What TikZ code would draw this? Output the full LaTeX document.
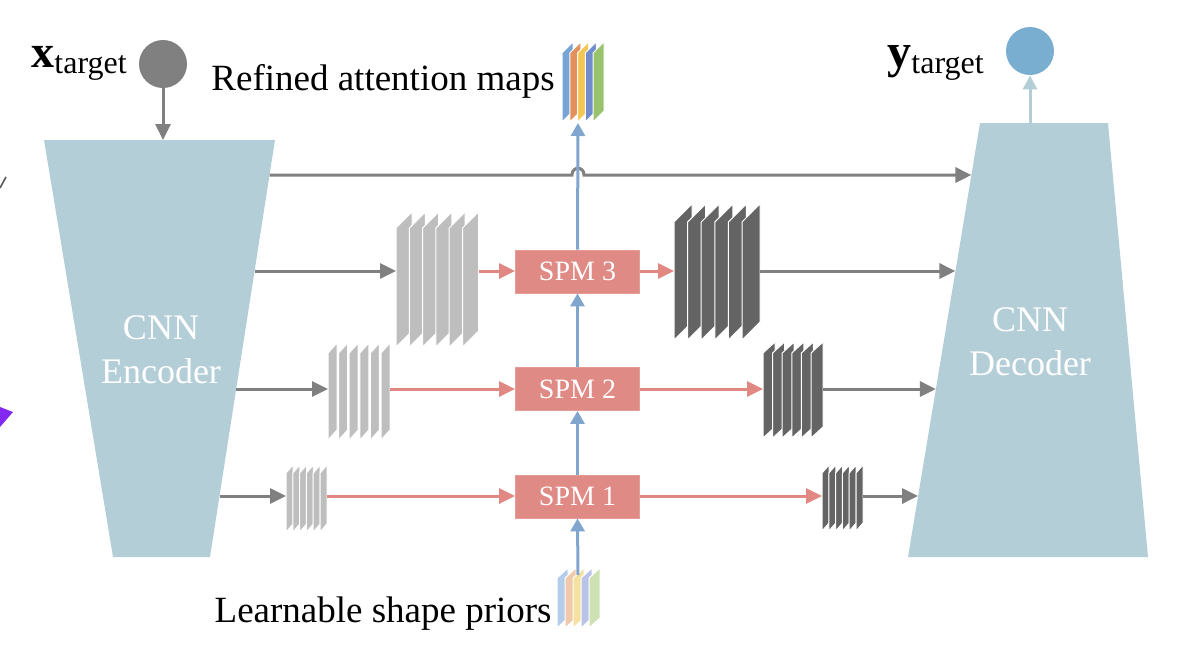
\documentclass[tikz,border=0pt]{standalone}
\usepackage{fontspec}
\setmainfont{Liberation Serif}
\usetikzlibrary{arrows.meta}
\definecolor{cnn}{RGB}{180,206,215}
\definecolor{gline}{RGB}{128,128,128}
\definecolor{rline}{RGB}{226,136,130}
\definecolor{bline}{RGB}{128,166,206}
\definecolor{spm}{RGB}{224,138,133}
\definecolor{lplate}{RGB}{190,190,190}
\definecolor{dplate}{RGB}{100,100,100}
\definecolor{xcirc}{RGB}{128,128,128}
\definecolor{ycirc}{RGB}{122,174,208}
\definecolor{ra}{RGB}{118,164,214}
\definecolor{rb}{RGB}{228,144,94}
\definecolor{rc}{RGB}{244,198,84}
\definecolor{rd}{RGB}{112,140,204}
\definecolor{re}{RGB}{152,194,108}
\definecolor{pa}{RGB}{180,205,235}
\definecolor{pb}{RGB}{240,200,170}
\definecolor{pc}{RGB}{245,225,160}
\definecolor{pd}{RGB}{185,195,232}
\definecolor{pe}{RGB}{205,225,180}
\definecolor{purp}{RGB}{130,40,240}
\newcommand\myplate[6]{%
  \filldraw[fill=#6, draw=white, line width=0.5pt] (#1,#2) -- ++(#3,-#4) -- ++(0,#5) -- ++(-#3,#4) -- cycle;}
\tikzset{
  tip/.style={-{Triangle[length=8pt,width=7.5pt]}},
  garrow/.style={draw=gline, line width=1.5pt, tip},
  gline/.style={draw=gline, line width=1.5pt},
  rarrow/.style={draw=rline, line width=1.5pt, tip},
  rlineonly/.style={draw=rline, line width=1.5pt},
  barrow/.style={draw=bline, line width=1.5pt, -{Triangle[length=6.5pt,width=7pt]}},
  spmbox/.style={fill=spm, draw=spm!85!white, minimum width=62pt, minimum height=21.5pt,
    text=white, font=\fontsize{14}{14}\selectfont, inner sep=0pt},
  lbl/.style={inner sep=0pt, font=\fontsize{18.5}{22}\selectfont},
  cnntext/.style={inner sep=0pt, text=white, align=center, font=\fontsize{18}{22}\selectfont}
}
\begin{document}
\begin{tikzpicture}[x=0.5pt,y=-0.5pt]
\useasboundingbox (0,0) rectangle (1200,660);
% edge artefacts
\fill[purp] (0,407) -- (13,412) -- (0,427) -- cycle;
\draw[gray!70!black, line width=0.8pt] (0,188) -- (6,177);
% encoder / decoder bodies
\fill[cnn] (44,140) -- (275,140) -- (210,557) -- (113,557) -- cycle;
\fill[cnn] (980,123) -- (1108,123) -- (1148,557) -- (908,557) -- cycle;
\node[cnntext] (enc) at (161,350) {CNN\\Encoder};
\node[cnntext] (dec) at (1030,342) {CNN\\Decoder};
% coordinates on edges
\coordinate (enctop) at (163,140);
\coordinate (dectop) at (1030,123);
\coordinate (e0) at (269.5,175);
\coordinate (e3) at (254.6,271);
\coordinate (e2) at (236.2,389);
\coordinate (e1) at (219.5,496);
\coordinate (d0) at (971.4,175);
\coordinate (d3) at (955.4,271);
\coordinate (d2) at (935.9,389);
\coordinate (d1) at (918.1,496);
% input / output circles
\node[circle, fill=xcirc, minimum size=24pt, inner sep=0pt] (xc) at (163,64) {};
\node[circle, fill=ycirc, minimum size=24pt, inner sep=0pt] (yc) at (1030,51) {};
\node[anchor=base west, inner sep=0pt] (xl) at (31,67)
  {\fontsize{23}{23}\selectfont\bfseries x\raisebox{-3pt}{\fontsize{16}{16}\selectfont\mdseries target}};
\node[anchor=base west, inner sep=0pt] (yl) at (887,67)
  {\fontsize{24}{24}\selectfont\bfseries y\raisebox{-3pt}{\fontsize{16}{16}\selectfont\mdseries target}};
\draw[garrow] (xc.south) -- (enctop);
\draw[draw=cnn, line width=1.5pt, -{Triangle[length=7pt,width=7pt]}] (dectop) -- (yc.south);
% feature stacks
\foreach \i in {0,...,5} {\myplate{396+13.3*\i}{228}{16}{16}{119}{lplate}}
\foreach \i in {0,...,5} {\myplate{674+13.6*\i}{222}{18}{18}{118}{dplate}}
\foreach \i in {0,...,5} {\myplate{328+10.6*\i}{353}{9}{10}{87}{lplate}}
\foreach \i in {0,...,5} {\myplate{763+9.6*\i}{353}{12}{11}{85}{dplate}}
\foreach \i in {0,...,5} {\myplate{286+6.8*\i}{473}{7}{8}{59}{lplate}}
\foreach \i in {0,...,5} {\myplate{822+6.8*\i}{473}{7}{8}{58}{dplate}}
\coordinate (L3l) at (396,271); \coordinate (L3r) at (479,271);
\coordinate (D3l) at (674,271); \coordinate (D3r) at (760,271);
\coordinate (L2l) at (328,389); \coordinate (L2r) at (390,389);
\coordinate (D2l) at (763,389); \coordinate (D2r) at (823,389);
\coordinate (L1l) at (286,496); \coordinate (L1r) at (327,496);
\coordinate (D1l) at (822,496); \coordinate (D1r) at (863,496);
% refined attention maps and shape priors
\foreach \i/\c in {0/ra,1/rb,2/rc,3/rd,4/re} {\myplate{562+7.75*\i}{53}{11}{11}{69}{\c}}
\foreach \i/\c in {0/pa,1/pb,2/pc,3/pd,4/pe} {\myplate{557+8*\i}{578}{11}{10}{50}{\c}}
\coordinate (Rb) at (578,123);
\coordinate (Pt) at (578,575);
\node[lbl, anchor=base east] (rlab) at (555,90) {Refined attention maps};
\node[lbl, anchor=base east] (plab) at (552,622) {Learnable shape priors};
% SPM boxes
\node[spmbox] (s3) at (577.5,271.5) {SPM 3};
\node[spmbox] (s2) at (577.5,389) {SPM 2};
\node[spmbox] (s1) at (577.5,496.5) {SPM 1};
% top skip with hop
\draw[garrow] (e0) -- (572,175) .. controls (572,166) and (584,166) .. (584,175) -- (d0);
% row 3
\draw[garrow] (e3) -- (L3l);
\draw[rarrow] (L3r) -- (L3r -| s3.west);
\draw[rarrow] (s3.east |- D3l) -- (D3l);
\draw[garrow] (D3r) -- (d3);
% row 2
\draw[garrow] (e2) -- (L2l);
\draw[rarrow] (L2r) -- (L2r -| s2.west);
\draw[rarrow] (s2.east |- D2l) -- (D2l);
\draw[garrow] (D2r) -- (d2);
% row 1
\draw[garrow] (e1) -- (L1l);
\draw[rarrow] (L1r) -- (L1r -| s1.west);
\draw[rarrow] (s1.east |- D1l) -- (D1l);
\draw[garrow] (D1r) -- (d1);
% vertical path
\draw[barrow] (Pt) -- (s1.south);
\draw[barrow] (s1.north) -- (s2.south);
\draw[barrow] (s2.north) -- (s3.south);
\draw[barrow] (s3.north) -- (Rb);
\end{tikzpicture}
\end{document}
